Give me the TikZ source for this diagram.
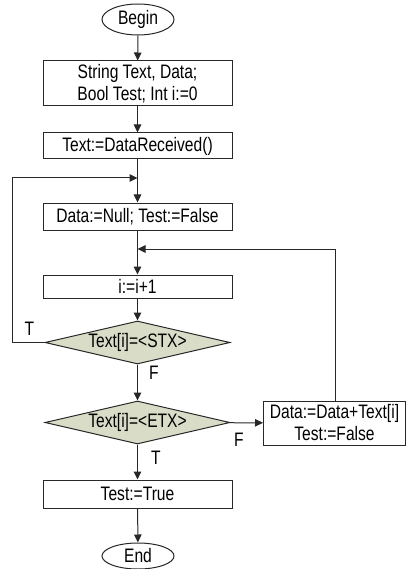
\documentclass[tikz,border=0pt]{standalone}
\usepackage{fontspec}
\setmainfont{Liberation Sans}[FakeStretch=0.8]
\usetikzlibrary{shapes.geometric,arrows.meta}
\definecolor{dfill}{RGB}{217,221,200}
\definecolor{lin}{RGB}{40,40,40}
\tikzset{
  every node/.style={font=\fontsize{19.5}{22}\selectfont, inner sep=0pt},
  procbox/.style={draw=lin, line width=1pt, rectangle, align=center},
  term/.style={draw=lin, line width=1pt, ellipse, minimum width=72pt},
  decis/.style={draw=lin, line width=1pt, diamond, fill=dfill, minimum width=185pt, minimum height=43pt},
  conn/.style={draw=lin, line width=1pt, -{Triangle[length=8pt,width=7.5pt]}},
  lbl/.style={font=\fontsize{19.5}{22}\selectfont}
}
\begin{document}
\begin{tikzpicture}[x=1pt,y=-1pt]
\useasboundingbox (0,0) rectangle (406,569);
\node[term, minimum height=31pt] (begin) at (138,19.5) {Begin};
\node[procbox, minimum width=189pt, minimum height=45pt] (b1) at (137.5,83.5) {String Text, Data;\\Bool Test; Int i:=0};
\node[procbox, minimum width=189pt, minimum height=26pt] (b2) at (137.5,146) {Text:=DataReceived()};
\node[procbox, minimum width=189pt, minimum height=27pt] (b3) at (137.5,216.5) {Data:=Null; Test:=False};
\node[procbox, minimum width=189pt, minimum height=23pt] (b4) at (137.5,286.5) {i:=i+1};
\node[decis] (d1) at (137.5,342.5) {\makebox[0pt]{Text[i]=<STX>}};
\node[decis] (d2) at (137.5,422.5) {\makebox[0pt]{Text[i]=<ETX>}};
\node[procbox, minimum width=142pt, minimum height=44pt] (b5) at (334.5,423) {Data:=Data+Text[i]\\Test:=False};
\node[procbox, minimum width=189pt, minimum height=28pt] (b6) at (137.5,494) {Test:=True};
\node[term, minimum height=26pt] (end) at (138,556) {End};
\coordinate (jL) at (137.5,178);
\coordinate (jR) at (137.5,249);
\coordinate (cL) at (12,342.5);
\coordinate (cR) at (335,249);
\draw[conn] (begin) -- (b1);
\draw[conn] (b1) -- (b2);
\draw[conn] (b2) -- (b3);
\draw[conn] (b3) -- (b4);
\draw[conn] (b4) -- (d1);
\draw[conn] (d1) -- (d2);
\draw[conn] (d2) -- (b5);
\draw[conn] (d2) -- (b6);
\draw[conn] (b6) -- (end);
\draw[conn] (d1.west) -- (cL) |- (jL);
\draw[conn] (b5.north -| cR) -- (cR) -- (jR);
\node[lbl] (tl1) at (29.5,328.5) {T};
\node[lbl] (fl1) at (154,372.5) {F};
\node[lbl] (fl2) at (239,439.5) {F};
\node[lbl] (tl2) at (156,457.5) {T};
\end{tikzpicture}
\end{document}
